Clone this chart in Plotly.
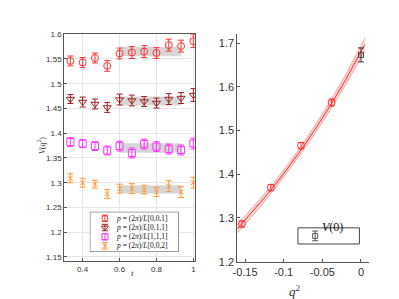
import plotly.graph_objects as go

# ---------------- data ----------------
t = [5/15, 6/15, 7/15, 8/15, 9/15, 10/15, 11/15, 12/15, 13/15, 14/15, 15/15]

v001 = [1.546, 1.543, 1.552, 1.536, 1.561, 1.563, 1.565, 1.562, 1.578, 1.576, 1.586]
e001 = [0.010, 0.010, 0.010, 0.011, 0.011, 0.012, 0.012, 0.011, 0.012, 0.012, 0.013]
v011 = [1.469, 1.463, 1.459, 1.452, 1.468, 1.466, 1.464, 1.461, 1.469, 1.471, 1.477]
e011 = [0.009, 0.010, 0.010, 0.010, 0.011, 0.011, 0.010, 0.010, 0.011, 0.011, 0.013]
v111 = [1.382, 1.379, 1.374, 1.365, 1.374, 1.360, 1.378, 1.373, 1.368, 1.366, 1.379]
e111 = [0.009, 0.008, 0.009, 0.009, 0.010, 0.010, 0.010, 0.010, 0.010, 0.010, 0.011]
v002 = [1.309, 1.300, 1.297, 1.277, 1.288, 1.288, 1.286, 1.281, 1.293, 1.281, 1.300]
e002 = [0.009, 0.009, 0.008, 0.009, 0.009, 0.010, 0.009, 0.009, 0.011, 0.011, 0.011]

band_t = [0.6, 0.933]
band_c = [1.565, 1.465, 1.370, 1.2865]
band_h = [0.0095, 0.009, 0.0095, 0.0085]

labels = ["<i>p</i> = (2<i>π</i>)/<i>L</i>[0,0,1]",
          "<i>p</i> = (2<i>π</i>)/<i>L</i>[0,1,1]",
          "<i>p</i> = (2<i>π</i>)/<i>L</i>[1,1,1]",
          "<i>p</i> = (2<i>π</i>)/<i>L</i>[0,0,2]"]
colors = ["#ff3333", "#a11e1e", "#ff33ff", "#ff9933"]
symbols = ["circle-open", "triangle-down-open", "square-open", "x-thin-open"]

q2 = [-0.154, -0.1166, -0.0776, -0.038]
vq = [1.2863, 1.3695, 1.4655, 1.564]
eq = [0.007, 0.007, 0.007, 0.008]
q0 = [0.0]
v0 = [1.673]
e0 = [0.016]
v0_label = "<i>V</i>(0)"

fit_q2 = [-0.16, -0.14, -0.12, -0.10, -0.08, -0.06, -0.04, -0.02, 0.0, 0.005]
fit_v = [1.2746, 1.3143, 1.3564, 1.4014, 1.4495, 1.5010, 1.5563, 1.6157, 1.6800, 1.6969]
fit_e = [0.009, 0.009, 0.008, 0.008, 0.008, 0.009, 0.010, 0.011, 0.013, 0.014]

xt_vals = [0.4, 0.6, 0.8, 1.0]
xt_text = ["0.4", "0.6", "0.8", "1"]
yl_vals = [1.15, 1.2, 1.25, 1.3, 1.35, 1.4, 1.45, 1.5, 1.55, 1.6]
yl_text = ["1.15", "1.2", "1.25", "1.3", "1.35", "1.4", "1.45", "1.5", "1.55", "1.6"]
xr_vals = [-0.15, -0.1, -0.05, 0]
xr_text = ["-0.15", "-0.1", "-0.05", "0"]
yr_vals = [1.2, 1.3, 1.4, 1.5, 1.6, 1.7]
yr_text = ["1.2", "1.3", "1.4", "1.5", "1.6", "1.7"]

# ---------------- figure ----------------
fig = go.Figure()
W, H = 399, 299

# grey bands
for c, h in zip(band_c, band_h):
    fig.add_trace(go.Scatter(
        x=[band_t[0], band_t[1], band_t[1], band_t[0], band_t[0]],
        y=[c - h, c - h, c + h, c + h, c - h],
        fill="toself", fillcolor="rgba(200,200,200,0.75)", line=dict(width=0),
        mode="lines", showlegend=False, hoverinfo="skip", xaxis="x", yaxis="y"))

def msize(sym):
    return 5 if sym == "x-thin-open" else 7

series = [v001, v011, v111, v002]
errs = [e001, e011, e111, e002]
for v, e, col, sym in zip(series, errs, colors, symbols):
    fig.add_trace(go.Scatter(
        x=t, y=v, mode="markers", showlegend=False,
        marker=dict(symbol=sym, size=msize(sym), color=col, line=dict(color=col, width=1)),
        error_y=dict(type="data", array=e, color=col, thickness=1, width=3),
        xaxis="x", yaxis="y"))

# legend geometry (pixels)
L1 = (78, 168.3, 206.7, 248.3)
L2 = (289.3, 351.7, 223.3, 240)
row_top, row_step = 6.8, 9.5
rows_span = (L1[3] - L1[2]) / row_step
y3_top = -row_top / row_step
y3_bot = y3_top + rows_span

# legend box of left panel (white, drawn in its own small axes so it covers the grid)
fig.add_trace(go.Scatter(
    x=[0, 1, 1, 0, 0], y=[y3_top, y3_top, y3_bot, y3_bot, y3_top],
    mode="lines", fill="toself", fillcolor="white", line=dict(color="#444444", width=1),
    showlegend=False, hoverinfo="skip", xaxis="x3", yaxis="y3", cliponaxis=False))

# legend swatches
for i, (col, sym) in enumerate(zip(colors, symbols)):
    fig.add_trace(go.Scatter(
        x=[0.17], y=[i], mode="markers", showlegend=False, hoverinfo="skip",
        marker=dict(symbol=sym, size=msize(sym) - 1, color=col, line=dict(color=col, width=1)),
        error_y=dict(type="data", array=[0.35], color=col, thickness=1, width=3),
        xaxis="x3", yaxis="y3"))

# right panel: fit band
fig.add_trace(go.Scatter(x=fit_q2, y=[a - b for a, b in zip(fit_v, fit_e)],
                         mode="lines", line=dict(color="rgba(255,60,60,0.45)", width=1),
                         showlegend=False, hoverinfo="skip", xaxis="x2", yaxis="y2"))
fig.add_trace(go.Scatter(x=fit_q2, y=[a + b for a, b in zip(fit_v, fit_e)],
                         mode="lines", line=dict(color="rgba(255,60,60,0.45)", width=1),
                         fill="tonexty", fillcolor="rgba(255,80,80,0.2)",
                         showlegend=False, hoverinfo="skip", xaxis="x2", yaxis="y2"))
fig.add_trace(go.Scatter(x=fit_q2, y=fit_v, mode="lines",
                         line=dict(color="#ff2020", width=1),
                         showlegend=False, hoverinfo="skip", xaxis="x2", yaxis="y2"))
fig.add_trace(go.Scatter(x=q2, y=vq, mode="markers", showlegend=False,
                         marker=dict(symbol="circle-open", size=7, color="#ff3333",
                                     line=dict(color="#ff3333", width=1)),
                         error_y=dict(type="data", array=eq, color="#ff3333", thickness=1, width=3),
                         xaxis="x2", yaxis="y2"))
fig.add_trace(go.Scatter(x=q0, y=v0, mode="markers", showlegend=False,
                         marker=dict(symbol="square-open", size=5, color="#444444",
                                     line=dict(color="#444444", width=1)),
                         error_y=dict(type="data", array=e0, color="#333333", thickness=1, width=3),
                         xaxis="x2", yaxis="y2"))
# right legend swatch
fig.add_trace(go.Scatter(x=[0.28], y=[0.5], mode="markers", showlegend=False, hoverinfo="skip",
                         marker=dict(symbol="square-open", size=5, color="#555555",
                                     line=dict(color="#555555", width=1)),
                         error_y=dict(type="data", array=[0.3], color="#555555", thickness=1, width=3),
                         xaxis="x4", yaxis="y4"))

tickfont_l = dict(family="Liberation Sans, Arial", size=8, color="#333333")
tickfont_r = dict(family="Liberation Sans, Arial", size=11, color="#333333")

hidden = dict(visible=False, fixedrange=True)

annotations = [
    dict(text="<i>V</i>(<i>q</i><sup>2</sup>)", x=22/W, y=1 - 138/H, xref="paper", yref="paper",
         showarrow=False, textangle=-90, font=dict(family="Liberation Serif", size=8, color="#333333")),
    dict(text="<i>t</i>", x=118/W, y=1 - 277/H, xref="paper", yref="paper",
         showarrow=False, font=dict(family="Liberation Serif", size=9, color="#333333")),
    dict(text="<i>q</i><sup>2</sup>", x=294/W, y=1 - 299/H, xref="paper", yref="paper",
         yanchor="bottom", showarrow=False,
         font=dict(family="Liberation Serif", size=13, color="#333333")),
    dict(text=v0_label, x=337/W, y=1 - 231.5/H, xref="paper", yref="paper",
         showarrow=False, font=dict(family="Liberation Serif", size=12, color="#111111")),
]
for i, lab in enumerate(labels):
    annotations.append(dict(text=lab, x=110, y=i, xref="x5", yref="y3", xanchor="left",
                            showarrow=False,
                            font=dict(family="Liberation Serif, DejaVu Serif", size=7.5, color="#111111")))

fig.update_layout(
    width=W, height=H, margin=dict(l=0, r=0, t=0, b=0),
    paper_bgcolor="white", plot_bgcolor="white",
    xaxis=dict(domain=[52/W, 185/W], range=[0.3, 1.01], tickvals=xt_vals, ticktext=xt_text,
               showgrid=True, gridcolor="#e6e6e6", gridwidth=1, zeroline=False,
               showline=True, linecolor="#555555", linewidth=1, mirror=True,
               ticks="inside", ticklen=3, tickcolor="#555555", tickfont=tickfont_l,
               anchor="y"),
    yaxis=dict(domain=[1 - 258/H, 1 - 23/H], range=[1.141, 1.6], tickvals=yl_vals, ticktext=yl_text,
               showgrid=True, gridcolor="#e6e6e6", gridwidth=1, zeroline=False,
               showline=True, linecolor="#555555", linewidth=1, mirror=True,
               ticks="inside", ticklen=3, tickcolor="#555555", tickfont=tickfont_l,
               anchor="x"),
    xaxis2=dict(domain=[227.7/W, 361.7/W], range=[-0.16, 0.0107], tickvals=xr_vals, ticktext=xr_text,
                showgrid=False, zeroline=False, showline=True, linecolor="#555555", linewidth=1,
                ticks="inside", ticklen=3, tickcolor="#555555", tickfont=tickfont_r,
                anchor="y2"),
    yaxis2=dict(domain=[1 - 258.3/H, 1 - 22.7/H], range=[1.2, 1.721], tickvals=yr_vals, ticktext=yr_text,
                showgrid=False, zeroline=False, showline=True, linecolor="#555555", linewidth=1,
                ticks="inside", ticklen=3, tickcolor="#555555", tickfont=tickfont_r,
                anchor="x2"),
    xaxis3=dict(domain=[L1[0]/W, L1[1]/W], range=[0, 1], anchor="y3", **hidden),
    yaxis3=dict(domain=[1 - L1[3]/H, 1 - L1[2]/H], range=[y3_bot, y3_top],
                anchor="x3", **hidden),
    xaxis5=dict(domain=[0, 1], range=[0, W], anchor="y3", overlaying="x3", **hidden),
    xaxis4=dict(domain=[L2[0]/W, L2[1]/W], range=[0, 1], anchor="y4", **hidden),
    yaxis4=dict(domain=[1 - L2[3]/H, 1 - L2[2]/H], range=[0, 1], anchor="x4", **hidden),
    showlegend=False,
    annotations=annotations,
    shapes=[
        dict(type="rect", xref="paper", yref="paper", x0=L2[0]/W, x1=L2[1]/W,
             y0=1 - L2[3]/H, y1=1 - L2[2]/H, line=dict(color="#444444", width=1),
             fillcolor="rgba(0,0,0,0)"),
    ],
)

fig.write_html("out.html")
